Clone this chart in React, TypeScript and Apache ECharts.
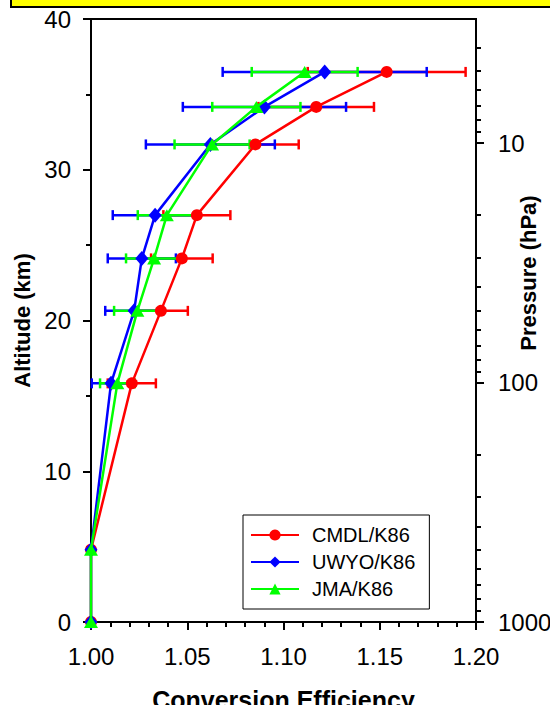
import React, { useEffect, useRef } from "react";
import * as echarts from "echarts";

// ---- data ----
const altitudeKm = [0, 4.8, 15.83, 20.64, 24.12, 26.99, 31.68, 34.17, 36.49];

const cmdlEff = [1.0, 1.0, 1.0212, 1.0363, 1.0472, 1.055, 1.0854, 1.117, 1.1536];
const cmdlErr = [0, 0, 0.0125, 0.014, 0.016, 0.0174, 0.0225, 0.03, 0.041];

const uwyoEff = [1.0, 1.0, 1.0104, 1.0224, 1.0264, 1.0333, 1.062, 1.0901, 1.1214];
const uwyoErr = [0, 0, 0.01, 0.015, 0.0177, 0.022, 0.0335, 0.0424, 0.053];

const jmaEff = [1.0, 1.0, 1.0137, 1.0241, 1.0328, 1.0394, 1.0629, 1.0859, 1.111];
const jmaErr = [0, 0, 0.009, 0.0121, 0.0146, 0.0151, 0.0195, 0.0229, 0.0275];

const seriesNames = ["CMDL/K86", "UWYO/K86", "JMA/K86"];
const seriesColors = ["#ff0000", "#0000ff", "#00ff00"];

const xTicks = [1.0, 1.05, 1.1, 1.15, 1.2];
const altitudeTicks = [0, 10, 20, 30, 40];
const pressureMajor = [10, 100, 1000];
const pressureMinor = [4, 5, 6, 7, 8, 9, 20, 30, 40, 50, 60, 70, 80, 90, 200, 300, 400, 500, 600, 700, 800, 900];
const pressureTop = 3.035;
const pressureBottom = 1000;

const FONT = "'Liberation Sans', Arial, sans-serif";

function buildOption() {
  const effs = [cmdlEff, uwyoEff, jmaEff];
  const errs = [cmdlErr, uwyoErr, jmaErr];
  const symbols = ["circle", "diamond", "triangle"];
  const symbolSizes: any[] = [12, [13, 15], [14, 12]];

  const errSeries = effs.map((eff, i) => ({
    type: "custom",
    name: seriesNames[i] + " err",
    xAxisIndex: 0,
    yAxisIndex: 0,
    z: 1,
    clip: false,
    encode: { x: 0, y: 1 },
    data: eff.map((v, k) => [v, altitudeKm[k], errs[i][k]]),
    renderItem: (params: any, api: any) => {
      const x = api.value(0);
      const y = api.value(1);
      const e = api.value(2);
      if (!e) return null;
      const p1 = api.coord([x - e, y]);
      const p2 = api.coord([x + e, y]);
      const style = { stroke: seriesColors[i], lineWidth: 2.5 };
      return {
        type: "group",
        children: [
          { type: "line", shape: { x1: p1[0], y1: p1[1], x2: p2[0], y2: p2[1] }, style },
          { type: "line", shape: { x1: p1[0], y1: p1[1] - 5, x2: p1[0], y2: p1[1] + 5 }, style },
          { type: "line", shape: { x1: p2[0], y1: p2[1] - 5, x2: p2[0], y2: p2[1] + 5 }, style },
        ],
      };
    },
  }));

  const lineSeries = effs.map((eff, i) => ({
    type: "line",
    name: seriesNames[i],
    xAxisIndex: 0,
    yAxisIndex: 0,
    z: 3 + i,
    clip: false,
    symbol: symbols[i],
    symbolSize: symbolSizes[i],
    showAllSymbol: true,
    lineStyle: { color: seriesColors[i], width: 2.5 },
    itemStyle: { color: seriesColors[i] },
    data: eff.map((v, k) => [v, altitudeKm[k]]),
  }));

  const log = (v: number) => Math.log10(v);

  return {
    animation: false,
    backgroundColor: "#fff",
    textStyle: { fontFamily: FONT },
    grid: {
      left: 91,
      right: 74,
      top: 19,
      bottom: 83,
      outerBoundsMode: "none",
      containLabel: false,
      show: true,
      borderColor: "#000",
      borderWidth: 2,
      backgroundColor: "transparent",
    },
    legend: {
      data: seriesNames,
      orient: "vertical",
      left: 243,
      top: 515,
      padding: [10, 14, 10, 7],
      itemWidth: 48,
      itemHeight: 14,
      itemGap: 7,
      borderColor: "#000",
      borderWidth: 1,
      backgroundColor: "#fff",
      textStyle: { fontSize: 20, color: "#000", fontFamily: FONT, padding: [0, 0, 0, 8] },
    },
    xAxis: {
      type: "value",
      min: xTicks[0],
      max: xTicks[xTicks.length - 1],
      interval: 0.05,
      name: "Conversion Efficiency",
      nameLocation: "middle",
      nameGap: 65,
      nameTextStyle: { fontSize: 25, fontWeight: "bold", color: "#000", fontFamily: FONT },
      axisLine: { show: true, lineStyle: { color: "#000", width: 2 } },
      axisTick: { show: true, inside: false, length: 8, lineStyle: { color: "#000", width: 2 } },
      minorTick: { show: true, splitNumber: 5, length: 5, lineStyle: { color: "#000", width: 2 } },
      axisLabel: {
        fontSize: 24,
        color: "#000",
        margin: 22,
        fontFamily: FONT,
        formatter: (v: number) => v.toFixed(2),
      },
      splitLine: { show: false },
    },
    yAxis: [
      {
        type: "value",
        position: "left",
        min: altitudeTicks[0],
        max: altitudeTicks[altitudeTicks.length - 1],
        interval: 10,
        name: "Altitude (km)",
        nameLocation: "middle",
        nameGap: 53,
        nameTextStyle: { fontSize: 22, fontWeight: "bold", color: "#000", fontFamily: FONT },
        axisLine: { show: true, lineStyle: { color: "#000", width: 2 } },
        axisTick: { show: true, inside: false, length: 8, lineStyle: { color: "#000", width: 2 } },
        minorTick: { show: true, splitNumber: 2, length: 5, lineStyle: { color: "#000", width: 2 } },
        axisLabel: { fontSize: 24, color: "#000", margin: 20, fontFamily: FONT },
        splitLine: { show: false },
      },
      {
        type: "value",
        position: "right",
        inverse: true,
        min: log(pressureTop),
        max: log(pressureBottom),
        axisLine: { show: true, lineStyle: { color: "#000", width: 2 } },
        axisTick: {
          show: true,
          inside: false,
          length: 8,
          customValues: pressureMajor.map(log),
          lineStyle: { color: "#000", width: 2 },
        },
        axisLabel: {
          fontSize: 24,
          color: "#000",
          margin: 22,
          fontFamily: FONT,
          customValues: pressureMajor.map(log),
          formatter: (v: number) => String(Math.round(Math.pow(10, v))),
        },
        splitLine: { show: false },
      },
      {
        type: "value",
        position: "right",
        inverse: true,
        min: log(pressureTop),
        max: log(pressureBottom),
        axisLine: { show: false },
        axisTick: {
          show: true,
          inside: false,
          length: 5,
          customValues: pressureMinor.map(log),
          lineStyle: { color: "#000", width: 2 },
        },
        axisLabel: { show: false },
        splitLine: { show: false },
      },
    ],
    graphic: [
      {
        type: "text",
        x: 528,
        y: 273,
        rotation: Math.PI / 2,
        z: 10,
        style: {
          text: "Pressure (hPa)",
          align: "center",
          verticalAlign: "middle",
          font: `bold 22px ${FONT}`,
          fill: "#000",
        },
      },
      {
        type: "rect",
        z: 20,
        shape: { x: 11, y: -20, width: 600, height: 27 },
        style: { fill: "#ffff00", stroke: "#000", lineWidth: 2 },
      },
    ],
    series: [...errSeries, ...lineSeries],
  };
}

export default function App() {
  const ref = useRef<HTMLDivElement>(null);
  useEffect(() => {
    if (!ref.current) return;
    const chart = echarts.init(ref.current, null, { renderer: "svg", width: 550, height: 705 });
    chart.setOption(buildOption() as any);
    return () => chart.dispose();
  }, []);
  return (
    <div
      ref={ref}
      style={{ position: "fixed", left: 0, top: 0, width: 550, height: 705, background: "#fff" }}
    />
  );
}
